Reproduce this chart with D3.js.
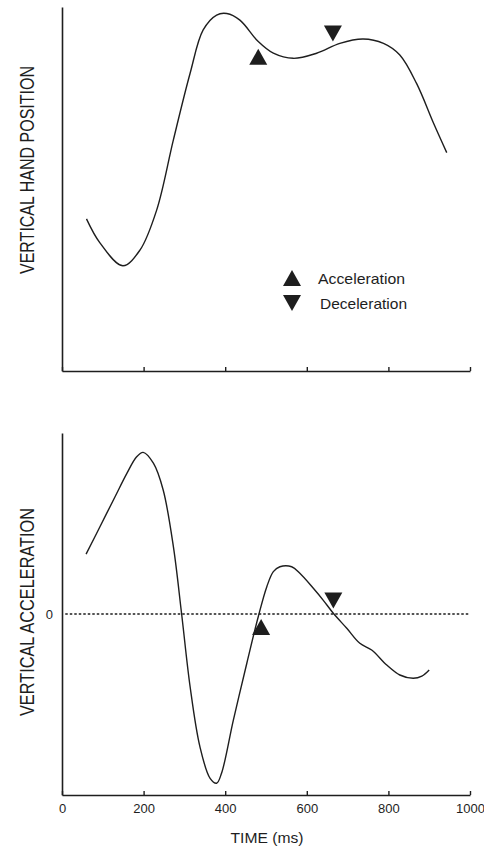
<!DOCTYPE html>
<html>
<head>
<meta charset="utf-8">
<script src="https://cdn.jsdelivr.net/npm/d3@7"></script>
<style>
  body { margin: 0; background: #fff; }
  svg { display: block; font-family: "Liberation Sans", Arial, Helvetica, sans-serif; }
</style>
</head>
<body>
<div id="chart"></div>
<script>
// time axis (ms)
var timeTicks = [0, 200, 400, 600, 800, 1000];

// vertical hand position (arbitrary units 0-100)
var posTime = [60, 93, 149, 191, 232, 273, 314, 346, 379, 404, 436, 481, 518, 567, 624, 681, 738, 788, 828, 869, 911, 943];
var posValue = [41.8, 35.2, 28.9, 33.2, 44.2, 63.5, 81.8, 93.7, 97.8, 98.2, 96.4, 90.5, 87.3, 85.9, 87.3, 90, 91.2, 90, 86.8, 79, 68, 60];

// vertical acceleration (arbitrary units, 0 = no acceleration)
var accTime = [59, 93, 130, 159, 183, 199, 224, 248, 273, 293, 314, 338, 363, 379, 391, 420, 453, 481, 502, 518, 534, 563, 583, 616, 640, 665, 698, 730, 759, 796, 828, 861, 882, 900];
var accValue = [33.1, 48.2, 64.8, 77.7, 86.9, 89.3, 83.3, 68.5, 37.2, 0.4, -40.2, -73.3, -90.8, -93.5, -88, -58.6, -27.2, -1.5, 15.1, 23.4, 26.1, 26.1, 22.5, 14.2, 7.7, 0.4, -7.9, -16.2, -19.9, -28.2, -33.7, -35.5, -34.3, -30.9];

// event markers: [time, value]
var posAccelMark = [481, 86.3];
var posDecelMark = [664, 92.7];
var accAccelMark = [488, -7.2];
var accDecelMark = [665, 7.5];

var legendLabels = ["Acceleration", "Deceleration"];

var w = 484, h = 849;
var ink = "#1e1e1e";

var svg = d3.select("#chart").append("svg")
  .attr("width", w)
  .attr("height", h);

var x = d3.scaleLinear().domain([0, 1000]).range([62, 470]);
var yPos = d3.scaleLinear().domain([0, 100]).range([371, 7]);
var yAcc = d3.scaleLinear().domain([-100, 100]).range([795, 433]);

// triangle path centred on its bounding box
function triangle(up) {
  var hw = 9, hh = 8;
  return up
    ? "M0," + (-hh) + "L" + hw + "," + hh + "L" + (-hw) + "," + hh + "Z"
    : "M0," + hh + "L" + hw + "," + (-hh) + "L" + (-hw) + "," + (-hh) + "Z";
}

function styleAxis(g) {
  g.select(".domain").attr("stroke", ink).attr("stroke-width", 1.6);
  g.selectAll(".tick line").attr("stroke", ink).attr("stroke-width", 1.4);
  g.selectAll(".tick text").attr("fill", ink).style("font-size", "13px");
}

function drawPanel(times, values, y, showLabels, marks) {
  var pts = times.map(function(t, i) { return [t, values[i]]; });

  var xAxis = d3.axisBottom(x)
    .tickValues(timeTicks)
    .tickSizeInner(-4)
    .tickSizeOuter(0)
    .tickPadding(9)
    .tickFormat(showLabels ? d3.format("d") : "");
  svg.append("g")
    .attr("transform", "translate(0," + y.range()[0] + ")")
    .call(xAxis)
    .call(styleAxis);

  var line = d3.line()
    .x(function(d) { return x(d[0]); })
    .y(function(d) { return y(d[1]); })
    .curve(d3.curveCatmullRom.alpha(0.5));

  svg.append("path")
    .datum(pts)
    .attr("fill", "none")
    .attr("stroke", ink)
    .attr("stroke-width", 1.4)
    .attr("d", line);

  svg.selectAll(null)
    .data(marks)
    .enter().append("path")
    .attr("transform", function(d) { return "translate(" + x(d.p[0]) + "," + y(d.p[1]) + ")"; })
    .attr("d", function(d) { return triangle(d.up); })
    .attr("fill", ink);
}

// top panel
drawPanel(posTime, posValue, yPos, false, [
  { p: posAccelMark, up: true },
  { p: posDecelMark, up: false }
]);
svg.append("g")
  .attr("transform", "translate(" + x(0) + ",0)")
  .call(d3.axisLeft(yPos).tickValues([]).tickSizeOuter(0))
  .call(styleAxis);

// bottom panel
drawPanel(accTime, accValue, yAcc, true, [
  { p: accAccelMark, up: true },
  { p: accDecelMark, up: false }
]);
svg.append("g")
  .attr("transform", "translate(" + x(0) + ",0)")
  .call(d3.axisLeft(yAcc).tickValues([0]).tickSizeInner(0).tickSizeOuter(0).tickPadding(9))
  .call(styleAxis);

// zero line
svg.append("line")
  .attr("x1", x(8)).attr("x2", x(1000))
  .attr("y1", yAcc(0)).attr("y2", yAcc(0))
  .attr("stroke", ink)
  .attr("stroke-width", 1.3)
  .attr("stroke-dasharray", "2.5,2");

// axis titles (the original lettering is tall and narrow)
function yTitle(cy, label) {
  svg.append("text")
    .attr("transform", "translate(34," + cy + ") rotate(-90) scale(1,1.3)")
    .attr("text-anchor", "middle")
    .attr("fill", ink)
    .style("font-size", "16px")
    .attr("textLength", 208)
    .attr("lengthAdjust", "spacingAndGlyphs")
    .text(label);
}
yTitle(170, "VERTICAL HAND POSITION");
yTitle(612, "VERTICAL ACCELERATION");

svg.append("text")
  .attr("x", 267)
  .attr("y", 843)
  .attr("text-anchor", "middle")
  .attr("fill", ink)
  .style("font-size", "15px")
  .attr("textLength", 73)
  .attr("lengthAdjust", "spacingAndGlyphs")
  .text("TIME (ms)");

// legend
var legend = svg.append("g").attr("transform", "translate(292,278)");
legendLabels.forEach(function(label, i) {
  legend.append("path")
    .attr("transform", "translate(0," + i * 25 + ")")
    .attr("d", triangle(i === 0))
    .attr("fill", ink);
  legend.append("text")
    .attr("x", 26 + i * 2)
    .attr("y", i * 25 + 6)
    .attr("fill", ink)
    .style("font-size", "15px")
    .attr("textLength", 87)
    .attr("lengthAdjust", "spacingAndGlyphs")
    .text(label);
});
</script>
</body>
</html>
